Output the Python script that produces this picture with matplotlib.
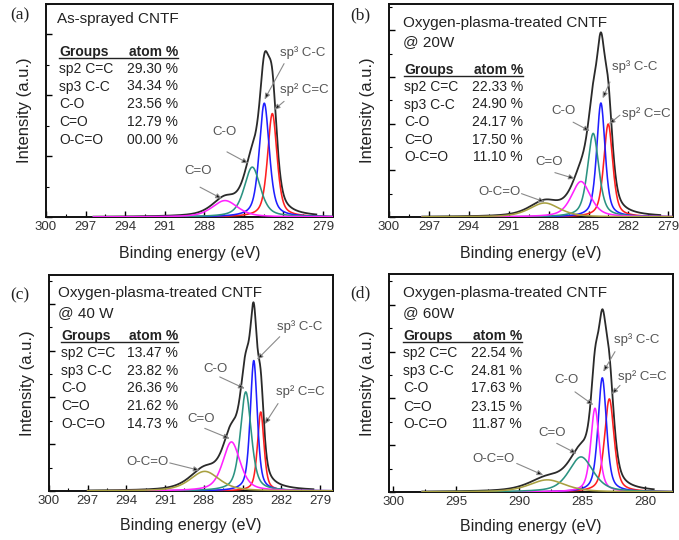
import numpy as np
import matplotlib
matplotlib.use('Agg')
import matplotlib.pyplot as plt
from matplotlib.lines import Line2D
from matplotlib.ticker import MultipleLocator

plt.rcParams['font.family'] = ['Liberation Sans', 'DejaVu Sans']

W, H = 679, 540

# ---------------- data ----------------
groups = ['sp2 C=C', 'sp3 C-C', 'C-O', 'C=O', 'O-C=O']
atom_a = ['29.30 %', '34.34 %', '23.56 %', '12.79 %', '00.00 %']
atom_b = ['22.33 %', '24.90 %', '24.17 %', '17.50 %', '11.10 %']
atom_c = ['13.47 %', '23.82 %', '26.36 %', '21.62 %', '14.73 %']
atom_d = ['22.54 %', '24.81 %', '17.63 %', '23.15 %', '11.87 %']

titles = [['As-sprayed CNTF'],
          ['Oxygen-plasma-treated CNTF', '@ 20W'],
          ['Oxygen-plasma-treated CNTF', '@ 40 W'],
          ['Oxygen-plasma-treated CNTF', '@ 60W']]
panel_tags = ['(a)', '(b)', '(c)', '(d)']

xticks_abc = [300, 297, 294, 291, 288, 285, 282, 279]
xticks_d = [300, 295, 290, 285, 280]

# fitted components: sp2 C=C, sp3 C-C, C-O, C=O, O-C=O (centre eV, height a.u., FWHM eV)
centers_a = [282.84, 283.45, 284.36, 286.43]
heights_a = [1.70, 1.87, 0.82, 0.27]
fwhm_a = [0.85, 0.90, 1.45, 2.30]

centers_b = [283.52, 284.07, 284.65, 285.57, 288.30]
heights_b = [1.99, 2.44, 1.79, 0.76, 0.30]
fwhm_b = [0.80, 0.75, 1.00, 1.70, 2.70]

centers_c = [283.59, 284.13, 284.75, 285.86, 287.93]
heights_c = [1.69, 2.79, 2.12, 1.05, 0.42]
fwhm_c = [0.60, 0.65, 1.00, 1.60, 2.70]

centers_d = [282.83, 283.39, 283.97, 285.08, 287.76]
heights_d = [1.99, 2.44, 1.79, 0.75, 0.26]
fwhm_d = [0.90, 0.80, 0.80, 2.30, 3.40]

# ---------------- styles ----------------
BLUE, RED, TEAL, MAG, OLIVE, BLK = '#1f1fff', '#ff2020', '#2b9382', '#ff22ff', '#a8a040', '#2a2a2a'
colors_abc = [RED, BLUE, TEAL, MAG, OLIVE]
colors_d = [RED, BLUE, MAG, TEAL, OLIVE]

ETA = 0.55


def pvoigt(x, c, h, w):
    t = ((x - c) / w) ** 2
    return h * (ETA / (1 + 4 * t) + (1 - ETA) * np.exp(-4 * np.log(2) * t))


# axes boxes in pixels: left, top, right, bottom
boxes = [(46, 4, 333, 217), (389, 4, 673, 217), (49, 275, 333, 491), (389, 274, 673, 492)]
xlims = [(300, 278.24), (300, 278.65), (300, 277.99), (300.34, 277.77)]
ylims = [(0, 3.5), (0, 4.56), (0, 4.62), (0, 4.66)]
ranges = [(296.4, 278.2), (297.5, 278.6), (297.0, 277.9), (297.7, 277.7)]
env_end = [279.5, 279.6, 279.5, 279.3]
xlabel_pad = [9, 9, 8, 8]

params = [(centers_a, heights_a, fwhm_a, atom_a, colors_abc, xticks_abc),
          (centers_b, heights_b, fwhm_b, atom_b, colors_abc, xticks_abc),
          (centers_c, heights_c, fwhm_c, atom_c, colors_abc, xticks_abc),
          (centers_d, heights_d, fwhm_d, atom_d, colors_d, xticks_d)]

# annotations: label, text pos, ha, line start, arrow target (data coords)
annots = [
    [('sp³ C-C', (282.26, 2.70), 'left', (281.95, 2.52), (283.43, 1.93)),
     ('sp² C=C', (282.26, 2.09), 'left', (281.95, 1.90), (282.72, 1.76)),
     ('C-O', (286.43, 1.40), 'center', (286.28, 1.07), (284.66, 0.88)),
     ('C=O', (288.48, 0.76), 'center', (288.32, 0.49), (286.66, 0.30))],
    [('sp³ C-C', (283.27, 3.21), 'left', (283.39, 2.89), (283.94, 2.54)),
     ('sp² C=C', (282.51, 2.21), 'left', (282.64, 2.18), (283.47, 1.99)),
     ('C-O', (286.91, 2.28), 'center', (286.16, 2.03), (284.90, 1.84)),
     ('C=O', (287.93, 1.18), 'center', (287.53, 0.95), (286.03, 0.82)),
     ('O-C=O', (291.72, 0.535), 'center', (290.04, 0.50), (288.28, 0.32))],
    [('sp³ C-C', (282.33, 3.51), 'left', (282.12, 3.30), (283.88, 2.81)),
     ('sp² C=C', (282.37, 2.12), 'left', (282.25, 1.87), (283.28, 1.43)),
     ('C-O', (287.10, 2.62), 'center', (286.77, 2.44), (284.83, 2.19)),
     ('C=O', (288.19, 1.55), 'center', (287.93, 1.34), (285.99, 1.12)),
     ('O-C=O', (292.40, 0.62), 'center', (290.64, 0.60), (288.32, 0.44))],
    [('sp³ C-C', (282.46, 3.25), 'left', (282.38, 3.00), (283.31, 2.57)),
     ('sp² C=C', (282.11, 2.46), 'left', (281.98, 2.28), (282.64, 2.09)),
     ('C-O', (286.22, 2.39), 'center', (285.56, 2.14), (284.10, 1.86)),
     ('C=O', (287.36, 1.27), 'center', (287.01, 1.04), (285.42, 0.82)),
     ('O-C=O', (292.05, 0.715), 'center', (290.19, 0.61), (288.08, 0.36))],
]

# text layout in pixels
title_pos = [[(57, 19)], [(403, 23), (403, 42)], [(58, 293), (58, 313)], [(403, 293), (403, 313)]]
tag_pos = [(20, 15), (360, 15), (20, 295), (360, 293)]
table_left = [59, 404, 61, 403]
table_right = [178, 523, 178, 522]
table_head_y = [52, 70, 336, 336]
table_rows_y = [[69, 86.5, 104, 121.5, 139.5],
                [87, 104.5, 122, 139.5, 157],
                [353, 371, 388.5, 406, 424],
                [353, 371, 388.5, 407, 424]]

fig = plt.figure(figsize=(W / 100, H / 100), dpi=100)


def fx(px):
    return px / W


def fy(py):
    return 1 - py / H


for i, (box, (cen, hei, fw, atoms, cols, xt)) in enumerate(zip(boxes, params)):
    l, t, r, b = box
    ax = fig.add_axes([fx(l), fy(b), (r - l) / W, (b - t) / H])
    x = np.linspace(ranges[i][0], ranges[i][1], 1200)
    comps = [pvoigt(x, c, h, w) for c, h, w in zip(cen, hei, fw)]
    env = np.sum(comps, axis=0)
    m = x >= env_end[i]
    ax.plot(x[m], env[m], color=BLK, lw=1.3, zorder=3)
    for yv, col in zip(comps, cols):
        ax.plot(x, yv, color=col, lw=1.15, zorder=4)

    ax.set_xlim(*xlims[i])
    ax.set_ylim(*ylims[i])
    ax.set_xticks(xt)
    step = xt[0] - xt[1]
    ax.xaxis.set_minor_locator(MultipleLocator(step / 2))
    ax.yaxis.set_major_locator(MultipleLocator(1))
    ax.yaxis.set_minor_locator(MultipleLocator(0.5))
    ax.tick_params(axis='both', which='major', direction='in', length=4, width=1.0,
                   labelsize=9.5, labelcolor='#333333', pad=3)
    ax.tick_params(axis='both', which='minor', direction='in', length=2, width=0.8)
    ax.tick_params(axis='y', which='both', labelleft=False)
    for sp in ax.spines.values():
        sp.set_linewidth(1.4)
        sp.set_color('#111111')
    ax.set_xlabel('Binding energy (eV)', fontsize=11.5, color='#222222', labelpad=xlabel_pad[i])
    ax.set_ylabel('Intensity (a.u.)', fontsize=12, color='#222222', labelpad=10)

    for lab, tp, ha, st, tg in annots[i]:
        ax.text(tp[0], tp[1], lab, fontsize=9.5, color='#555555', ha=ha, va='center', zorder=6)
        ax.annotate('', xy=tg, xytext=st,
                    arrowprops=dict(arrowstyle='-|>,head_length=0.35,head_width=0.15',
                                    ec='#8a8a8a', fc='#111111', lw=0.8,
                                    shrinkA=0, shrinkB=0), zorder=6)

    # titles
    for txt, (px, py) in zip(titles[i], title_pos[i]):
        fig.text(fx(px), fy(py), txt, fontsize=11, color='#222222', ha='left', va='center')
    # panel tag
    fig.text(fx(tag_pos[i][0]), fy(tag_pos[i][1]), panel_tags[i], fontsize=12.5,
             family=['Liberation Serif', 'DejaVu Serif'], color='#222222', ha='center', va='center')
    # table
    tl, tr = table_left[i], table_right[i]
    hy = table_head_y[i]
    fig.text(fx(tl), fy(hy), 'Groups', fontsize=10, fontweight='bold', color='#222222',
             ha='left', va='center')
    fig.text(fx(tr), fy(hy), 'atom %', fontsize=10, fontweight='bold', color='#222222',
             ha='right', va='center')
    fig.add_artist(Line2D([fx(tl), fx(tr)], [fy(hy + 6), fy(hy + 6)], transform=fig.transFigure,
                          color='#222222', lw=1.0))
    for g, a, ry in zip(groups, atoms, table_rows_y[i]):
        fig.text(fx(tl), fy(ry), g, fontsize=10, color='#222222', ha='left', va='center')
        fig.text(fx(tr), fy(ry), a, fontsize=10, color='#222222', ha='right', va='center')

fig.savefig('out.png', dpi=100)
